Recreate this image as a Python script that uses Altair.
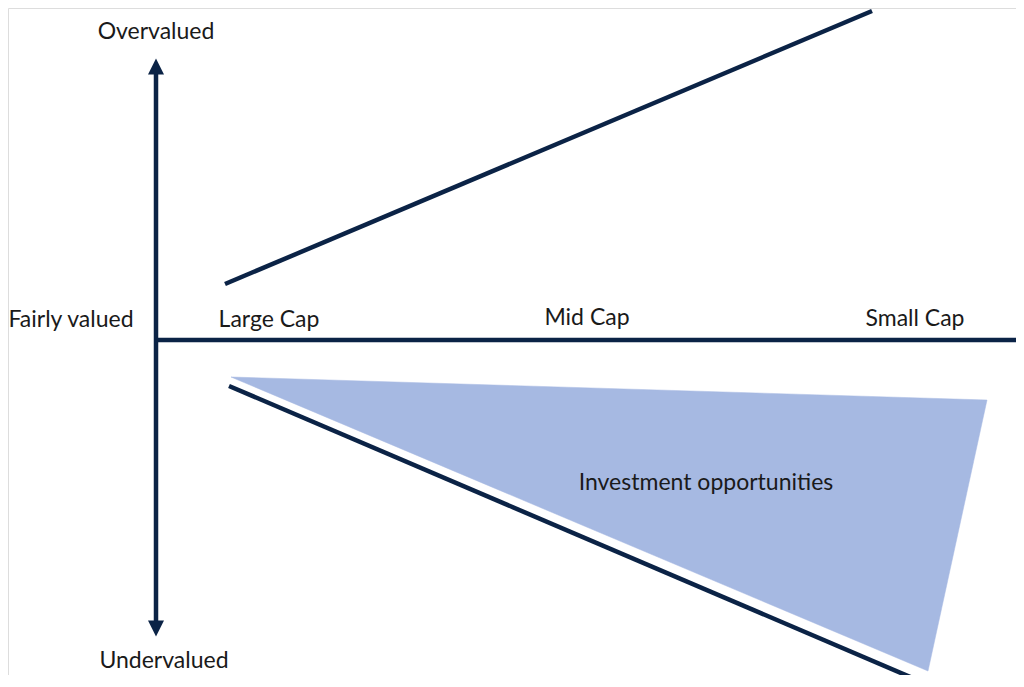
import altair as alt
import pandas as pd

# Diagram geometry, read in pixels of the reference picture
NAVY = "#0b2346"
FILL = "#a6b9e2"
TEXT = "#1a1a1a"

seg_names = ["v_axis", "h_axis", "upper", "lower"]
seg_x1 = [156, 156, 225, 229]
seg_y1 = [70, 340, 284, 386]
seg_x2 = [156, 1024, 872, 922]
seg_y2 = [624, 340, 11, 682]

poly_x = [231, 987, 928]
poly_y = [377, 400, 671]
poly_order = [1, 2, 3]

arrow_x = [156, 156, 1030]
arrow_y = [66.5, 628.5, 340]
arrow_shape = ["M0,-1L1,1L-1,1Z", "M0,1L1,-1L-1,-1Z", "M1,0L-1,1L-1,-1Z"]

labels = ["Overvalued", "Undervalued", "Fairly valued", "Large Cap", "Mid Cap", "Small Cap", "Investment opportunities"]
label_x = [156, 164, 71, 269, 587, 915, 706]
label_y = [39, 668, 327, 327, 325, 326, 490]

W, H = 1008, 667
xs = alt.Scale(domain=[8, 8 + W], nice=False, zero=False)
ys = alt.Scale(domain=[8, 8 + H], nice=False, zero=False, reverse=True)
noax = None

segs = pd.DataFrame({"name": seg_names, "x": seg_x1, "y": seg_y1, "x2": seg_x2, "y2": seg_y2})
poly = pd.DataFrame({"x": poly_x + [poly_x[0]], "y": poly_y + [poly_y[0]], "o": poly_order + [4]})
arrows = pd.DataFrame({"x": arrow_x, "y": arrow_y, "shape": arrow_shape})
texts = pd.DataFrame({"label": labels, "x": label_x, "y": label_y})

poly_layer = alt.Chart(poly).mark_line(fill=FILL, stroke=FILL, strokeWidth=0.5, interpolate="linear-closed").encode(
    x=alt.X("x:Q", scale=xs, axis=noax),
    y=alt.Y("y:Q", scale=ys, axis=noax),
    order="o:Q",
)

seg_layer = alt.Chart(segs).mark_rule(color=NAVY, strokeWidth=4.5, strokeCap="butt").encode(
    x=alt.X("x:Q", scale=xs, axis=noax),
    y=alt.Y("y:Q", scale=ys, axis=noax),
    x2="x2:Q",
    y2="y2:Q",
)

arrow_layers = []
for i in range(len(arrow_x)):
    a = alt.Chart(arrows.iloc[[i]]).mark_point(
        shape=arrow_shape[i], size=256, filled=True, color=NAVY, opacity=1, strokeWidth=0
    ).encode(
        x=alt.X("x:Q", scale=xs, axis=noax),
        y=alt.Y("y:Q", scale=ys, axis=noax),
    )
    arrow_layers.append(a)

text_layer = alt.Chart(texts).mark_text(
    font="Lato", fontSize=23, color=TEXT, align="center", baseline="alphabetic"
).encode(
    x=alt.X("x:Q", scale=xs, axis=noax),
    y=alt.Y("y:Q", scale=ys, axis=noax),
    text="label:N",
)

chart = alt.layer(poly_layer, seg_layer, *arrow_layers, text_layer).properties(
    width=W, height=H, padding=0, autosize=alt.AutoSizeParams(type="none")
).configure_view(strokeWidth=0).configure(background="white")

chart.save("out.html", embed_options={"renderer": "svg", "actions": False})
